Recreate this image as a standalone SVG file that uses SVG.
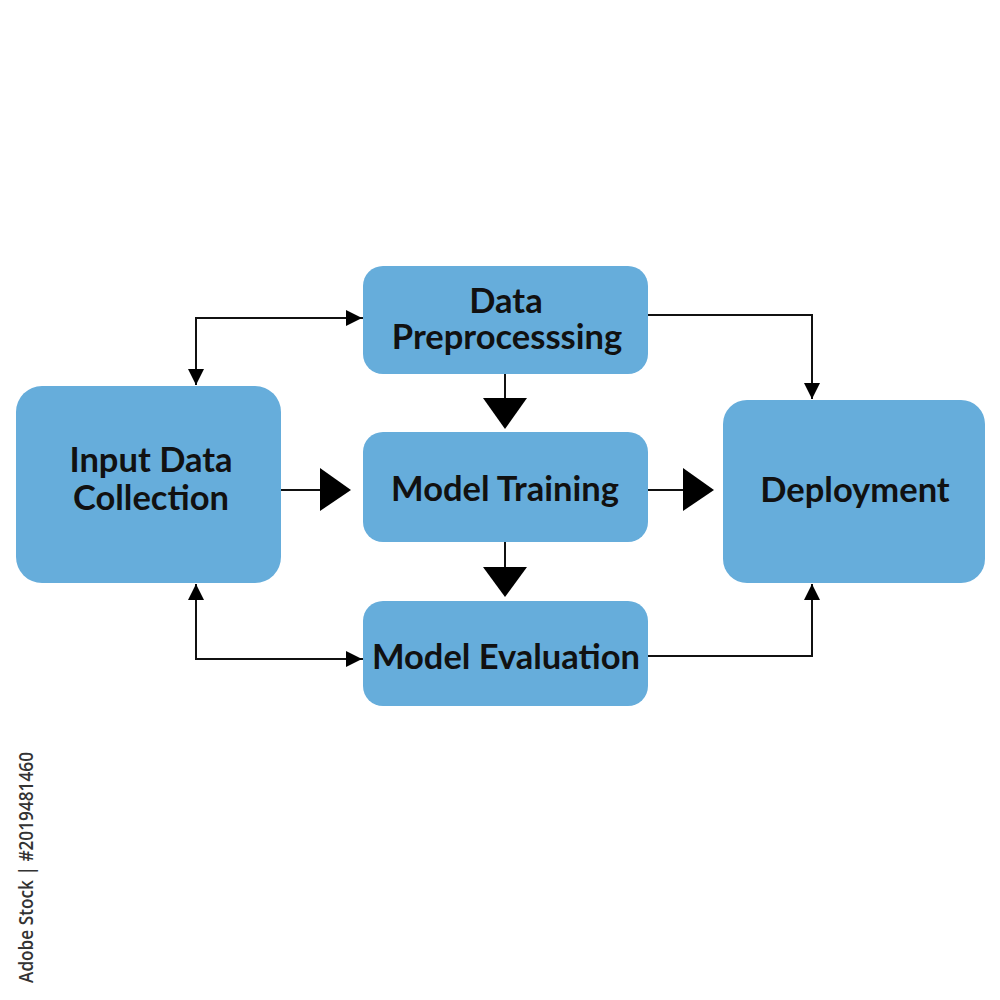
<svg xmlns="http://www.w3.org/2000/svg" width="1000" height="1000" viewBox="0 0 1000 1000">
<defs>
<style>
.box{fill:#66addb;}
.lbl{font-family:Lato,"Open Sans",sans-serif;font-weight:700;font-size:34.5px;fill:#111;text-anchor:middle;}
.ln{stroke:#111;stroke-width:2;fill:none;}
.big{fill:#000;}
</style>
<marker id="ah" viewBox="0 0 10 10" refX="10" refY="5" markerWidth="16" markerHeight="16" markerUnits="userSpaceOnUse" orient="auto">
<path d="M0,0 L10,5 L0,10 Z" fill="#000"/>
</marker>
</defs>
<rect width="1000" height="1000" fill="#fff"/>
<g id="connectors">
<path class="ln" d="M363,318 H196 V385" marker-end="url(#ah)"/>
<path class="ln" d="M196,318 H362" marker-end="url(#ah)"/>
<path class="ln" d="M363,659 H196 V584" marker-end="url(#ah)"/>
<path class="ln" d="M196,659 H362" marker-end="url(#ah)"/>
<path class="ln" d="M648,315 H812 V399" marker-end="url(#ah)"/>
<path class="ln" d="M648,656 H812 V584" marker-end="url(#ah)"/>
<path class="ln" d="M281,490 H322"/>
<polygon class="big" points="320,468 351,490 320,511"/>
<path class="ln" d="M648,490 H685"/>
<polygon class="big" points="683,468 714,490 683,511"/>
<path class="ln" d="M505,374 V400"/>
<polygon class="big" points="483,398 527,398 505,429"/>
<path class="ln" d="M505,542 V569"/>
<polygon class="big" points="483,567 527,567 505,597"/>
</g>
<g id="input">
<rect class="box" x="16" y="386" width="265" height="197" rx="26"/>
<text class="lbl" x="151" y="472">Input Data</text>
<text class="lbl" x="151" y="510">Collection</text>
</g>
<g id="preprocess">
<rect class="box" x="363" y="266" width="285" height="108" rx="20"/>
<text class="lbl" x="506" y="313">Data</text>
<text class="lbl" x="507" y="349">Preprocesssing</text>
</g>
<g id="training">
<rect class="box" x="363" y="432" width="285" height="110" rx="20"/>
<text class="lbl" x="505" y="501">Model Training</text>
</g>
<g id="evaluation">
<rect class="box" x="363" y="601" width="285" height="105" rx="20"/>
<text class="lbl" x="506" y="669">Model Evaluation</text>
</g>
<g id="deployment">
<rect class="box" x="723" y="400" width="262" height="183" rx="24"/>
<text class="lbl" x="855" y="502">Deployment</text>
</g>
<text x="33" y="752" transform="rotate(-90 33 752)" text-anchor="end" font-family="'Open Sans',sans-serif" font-size="19" font-weight="600" fill="#333" textLength="231" lengthAdjust="spacingAndGlyphs">Adobe Stock | #2019481460</text>
</svg>
